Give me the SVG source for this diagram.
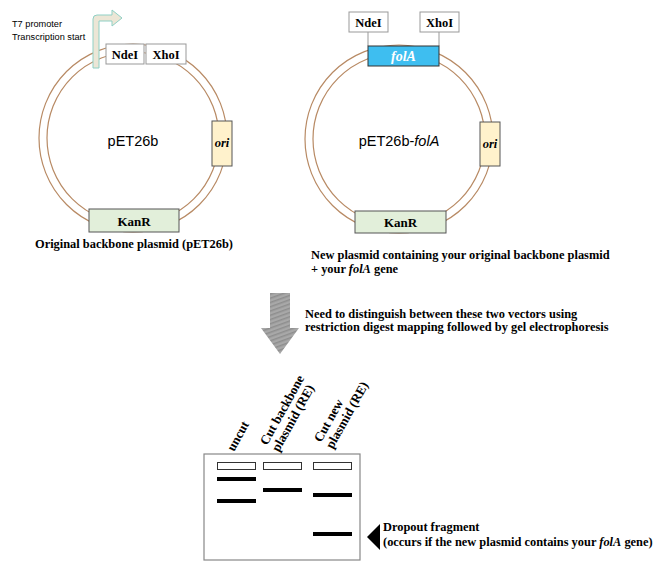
<svg xmlns="http://www.w3.org/2000/svg" width="660" height="570" viewBox="0 0 660 570">
<defs>
<style>
.ring{fill:none;stroke:#b88a64;stroke-width:1.2}
.site{fill:#fff;stroke:#999;stroke-width:1}
.ori{fill:#fff2cc;stroke:#555;stroke-width:1}
.kan{fill:#e2efda;stroke:#555;stroke-width:1}
.b{font-family:"Liberation Serif","Times New Roman",serif;font-weight:bold;fill:#000}
.s{font-family:"Liberation Sans",Arial,sans-serif;fill:#000}
.well{fill:#fff;stroke:#333;stroke-width:1}
.band{fill:#000}
</style>
<pattern id="hatch" width="4" height="4" patternUnits="userSpaceOnUse" patternTransform="rotate(70)">
<rect width="4" height="4" fill="#a8a8a8"/>
<rect width="1.5" height="4" fill="#8e8e8e"/>
</pattern>
</defs>
<rect width="660" height="570" fill="#fff"/>

<g id="plasmid-left">
<circle class="ring" cx="133" cy="138" r="94"/>
<circle class="ring" cx="133" cy="138" r="86"/>
<g id="t7-arrow">
<path d="M93,68 L93,19 Q93,15 97,15 L112,15 L112,10 L122,18 L112,26 L112,21 L99,21 L99,68 Z" fill="#ece6d6" stroke="#8fd0c5" stroke-width="1"/>
</g>
<text class="s" x="12" y="27" font-size="9.2">T7 promoter</text>
<text class="s" x="12" y="40" font-size="9.2">Transcription start</text>
<g id="ndeI-left"><rect class="site" x="106" y="44" width="38" height="20"/><text class="b" x="125" y="58.5" font-size="12.5" text-anchor="middle">NdeI</text></g>
<g id="xhoI-left"><rect class="site" x="146" y="44" width="40" height="20"/><text class="b" x="166" y="58.5" font-size="12.5" text-anchor="middle">XhoI</text></g>
<g id="ori-left"><rect class="ori" x="212" y="121" width="20" height="45"/><text class="b" x="222" y="147" font-size="12.5" font-style="italic" text-anchor="middle">ori</text></g>
<g id="kanR-left"><rect class="kan" x="89" y="209" width="90" height="23"/><text class="b" x="134" y="225.5" font-size="13" text-anchor="middle">KanR</text></g>
<text class="s" x="133" y="146" font-size="14.5" text-anchor="middle">pET26b</text>
<text class="b" x="134" y="248" font-size="12.4" text-anchor="middle">Original backbone plasmid (pET26b)</text>
</g>

<g id="plasmid-right">
<circle class="ring" cx="399" cy="139" r="94"/>
<circle class="ring" cx="399" cy="139" r="86"/>
<line x1="368" y1="32" x2="368" y2="46" stroke="#999" stroke-width="1"/>
<line x1="439" y1="32" x2="439" y2="46" stroke="#999" stroke-width="1"/>
<g id="ndeI-right"><rect class="site" x="349" y="12" width="39" height="20"/><text class="b" x="368.5" y="26.5" font-size="12.5" text-anchor="middle">NdeI</text></g>
<g id="xhoI-right"><rect class="site" x="420" y="12" width="39" height="20"/><text class="b" x="439.5" y="26.5" font-size="12.5" text-anchor="middle">XhoI</text></g>
<g id="folA"><rect x="368" y="46" width="71" height="20" fill="#3ebef0" stroke="#333" stroke-width="1"/><text class="b" x="403.5" y="61" font-size="14" font-style="italic" style="fill:#fff" text-anchor="middle">folA</text></g>
<g id="ori-right"><rect class="ori" x="480" y="122" width="20" height="44"/><text class="b" x="490" y="148" font-size="12.5" font-style="italic" text-anchor="middle">ori</text></g>
<g id="kanR-right"><rect class="kan" x="355" y="211" width="91" height="22"/><text class="b" x="400.5" y="227" font-size="13" text-anchor="middle">KanR</text></g>
<text class="s" x="399" y="146" font-size="14.5" text-anchor="middle">pET26b-<tspan font-style="italic">folA</tspan></text>
<text class="b" x="311" y="259" font-size="12.4">New plasmid containing your original backbone plasmid</text>
<text class="b" x="311" y="273" font-size="12.4">+ your <tspan font-style="italic">folA</tspan> gene</text>
</g>

<g id="down-arrow">
<path d="M270,293 L290,293 L290,328 L299,328 L280,354 L261,328 L270,328 Z" fill="url(#hatch)"/>
</g>
<text class="b" x="305" y="318" font-size="12.4">Need to distinguish between these two vectors using</text>
<text class="b" x="305" y="331" font-size="12.4">restriction digest mapping followed by gel electrophoresis</text>

<g id="gel">
<rect x="204" y="454" width="156" height="106" fill="#fff" stroke="#888" stroke-width="1.2"/>
<rect class="well" x="217.5" y="462.5" width="38" height="7"/>
<rect class="well" x="263.5" y="462.5" width="38" height="7"/>
<rect class="well" x="313.5" y="462.5" width="38" height="7"/>
<rect class="band" x="217" y="477" width="39" height="4"/>
<rect class="band" x="217" y="499" width="39" height="4"/>
<rect class="band" x="263" y="488" width="39" height="4"/>
<rect class="band" x="313" y="493" width="39" height="4"/>
<rect class="band" x="313" y="532" width="39" height="4"/>
</g>
<g id="lane-labels">
<text class="b" font-size="13" transform="translate(234,452) rotate(-61)">uncut</text>
<text class="b" font-size="13" transform="translate(267,446) rotate(-61)"><tspan x="0" y="0">Cut backbone</tspan><tspan x="0" y="13.5">plasmid (RE)</tspan></text>
<text class="b" font-size="13" transform="translate(321,443) rotate(-61)"><tspan x="0" y="0">Cut new</tspan><tspan x="0" y="13.5">plasmid (RE)</tspan></text>
</g>
<g id="dropout">
<polygon points="367,537 380,524 380,550" fill="#000"/>
<text class="b" x="383" y="531" font-size="12.4">Dropout fragment</text>
<text class="b" x="383" y="546" font-size="12.4">(occurs if the new plasmid contains your <tspan font-style="italic">folA</tspan> gene)</text>
</g>
</svg>
